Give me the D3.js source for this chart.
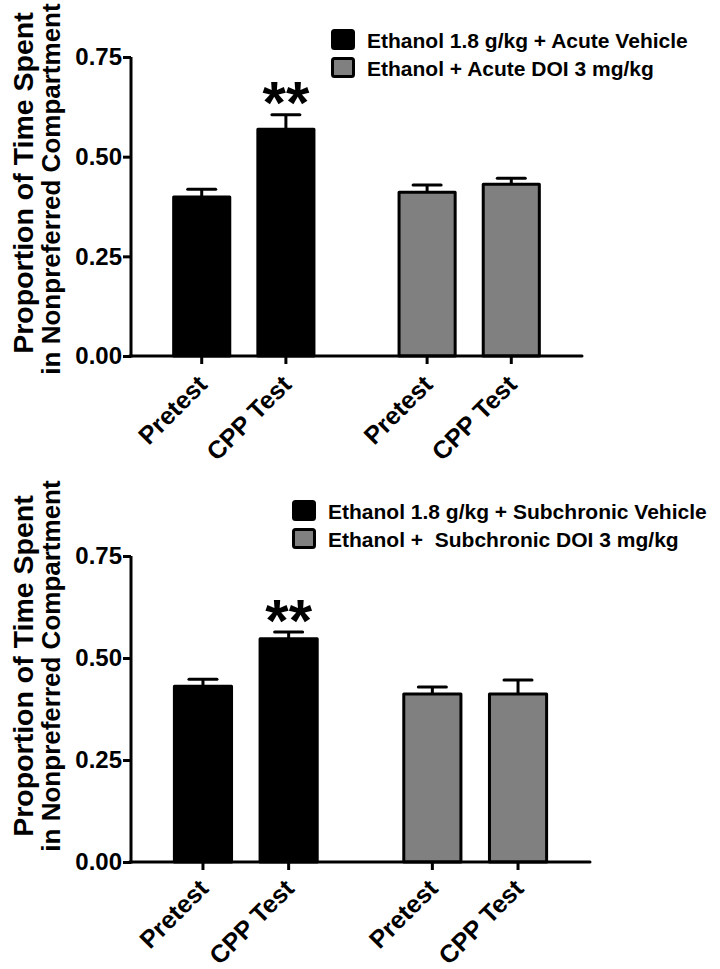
<!DOCTYPE html>
<html><head><meta charset="utf-8">
<script src="https://cdnjs.cloudflare.com/ajax/libs/d3/7.8.5/d3.min.js"></script>
<style>
html,body{margin:0;padding:0;background:#fff;}
svg{display:block;font-family:"Liberation Sans",Arial,sans-serif;font-weight:bold;}
</style></head>
<body>
<svg id="chart" width="720" height="969"></svg>
<script>
// ---- data ----
const conditions = ["Pretest", "CPP Test"];
const groups = ["Vehicle", "DOI"];
const yTicks = [0, 0.25, 0.5, 0.75];
const yTitle = ["Proportion of Time Spent", "in Nonpreferred Compartment"];

const acuteLegend = ["Ethanol 1.8 g/kg + Acute Vehicle", "Ethanol + Acute DOI 3 mg/kg"];
const acuteVehicleMean = [0.399, 0.569];
const acuteVehicleSem  = [0.019, 0.036];
const acuteDOIMean     = [0.411, 0.431];
const acuteDOISem      = [0.018, 0.015];

const subLegend = ["Ethanol 1.8 g/kg + Subchronic Vehicle", "Ethanol +  Subchronic DOI 3 mg/kg"];
const subVehicleMean = [0.431, 0.547];
const subVehicleSem  = [0.017, 0.017];
const subDOIMean     = [0.412, 0.412];
const subDOISem      = [0.017, 0.034];

const significance = ["", "**"]; // per condition, vehicle group
const groupColors = ["#000000", "#808080"];

const svg = d3.select("#chart");

function panel(cfg) {
  const g = svg.append("g");
  const y = d3.scaleLinear().domain([0, 0.75]).range([cfg.y0, cfg.y1]);
  const xg = d3.scaleBand().domain(groups).range([cfg.x0, cfg.x1])
    .paddingInner(0.253).paddingOuter(0.127);
  const xi = d3.scaleBand().domain(conditions).range([0, xg.bandwidth()])
    .paddingInner(0.298).paddingOuter(0.149);

  const rows = [];
  groups.forEach((gr, gi) => {
    conditions.forEach((c, ci) => {
      rows.push({group: gr, gi, cond: c, mean: cfg.means[gi][ci], sem: cfg.sems[gi][ci], sig: gi === 0 ? significance[ci] : ""});
    });
  });

  const bw = xi.bandwidth();
  // error bars (upper only)
  g.selectAll("line.err").data(rows).enter().append("line")
    .attr("x1", d => xg(d.group) + xi(d.cond) + bw / 2)
    .attr("x2", d => xg(d.group) + xi(d.cond) + bw / 2)
    .attr("y1", d => y(d.mean)).attr("y2", d => y(d.mean + d.sem))
    .attr("stroke", "#000").attr("stroke-width", 3);
  g.selectAll("line.cap").data(rows).enter().append("line")
    .attr("x1", d => xg(d.group) + xi(d.cond) + bw / 2 - 14)
    .attr("x2", d => xg(d.group) + xi(d.cond) + bw / 2 + 14)
    .attr("y1", d => y(d.mean + d.sem)).attr("y2", d => y(d.mean + d.sem))
    .attr("stroke", "#000").attr("stroke-width", 3).attr("stroke-linecap", "round");
  // bars
  g.selectAll("rect.bar").data(rows).enter().append("rect")
    .attr("x", d => xg(d.group) + xi(d.cond) + 1.5)
    .attr("width", bw - 3)
    .attr("y", d => y(d.mean))
    .attr("height", d => y(0) - y(d.mean))
    .attr("fill", d => groupColors[d.gi])
    .attr("stroke", "#000").attr("stroke-width", 3).attr("stroke-linejoin", "round");
  // significance
  g.selectAll("text.sig").data(rows.filter(d => d.sig)).enter().append("text")
    .attr("x", d => xg(d.group) + xi(d.cond) + bw / 2)
    .attr("y", d => y(d.mean + d.sem) + cfg.sigDy)
    .attr("text-anchor", "middle").attr("font-size", 60)
    .text(d => d.sig);

  // y axis
  const ya = g.append("g").attr("transform", `translate(${cfg.x0},0)`)
    .call(d3.axisLeft(y).tickValues(yTicks).tickFormat(d3.format(".2f")).tickSize(8).tickPadding(1));
  ya.select(".domain").attr("stroke-width", 3).attr("d", `M0,${cfg.y0 + 1.5}V${cfg.y1}`);
  ya.selectAll(".tick line").attr("stroke-width", 3);
  ya.selectAll(".tick text").attr("font-size", 24).attr("font-family", "Liberation Sans").attr("font-weight", "bold").attr("fill", "#000");

  // x axis
  const centers = rows.map(d => ({x: xg(d.group) + xi(d.cond) + bw / 2, label: d.cond}));
  g.append("line").attr("x1", cfg.x0 - 1.5).attr("x2", cfg.x1).attr("y1", cfg.y0).attr("y2", cfg.y0)
    .attr("stroke", "#000").attr("stroke-width", 3).attr("stroke-linecap", "round");
  g.selectAll("line.xt").data(centers).enter().append("line")
    .attr("x1", d => d.x).attr("x2", d => d.x).attr("y1", cfg.y0).attr("y2", cfg.y0 + 8)
    .attr("stroke", "#000").attr("stroke-width", 3);
  g.selectAll("text.xl").data(centers).enter().append("text")
    .attr("transform", d => `translate(${d.x + 7},${cfg.y0 + cfg.labDy}) rotate(-45)`)
    .attr("text-anchor", "end").attr("font-size", 25).text(d => d.label);

  // y title
  const titleSizes = [28.5, 26];
  yTitle.forEach((t, i) => {
    g.append("text")
      .attr("transform", `translate(${33 + i * 27},${cfg.titleCy[i]}) rotate(-90)`)
      .attr("text-anchor", "middle").attr("font-size", titleSizes[i])
      .text(t);
  });

  // legend
  cfg.legend.forEach((t, i) => {
    const ly = cfg.legY + i * cfg.legStep;
    g.append("rect").attr("x", cfg.legX + 1.5).attr("y", ly + 1.5).attr("width", 21).attr("height", 18)
      .attr("rx", 2).attr("fill", groupColors[i]).attr("stroke", "#000").attr("stroke-width", 3);
    g.append("text").attr("x", cfg.legX + 36).attr("y", ly + 19).attr("font-size", 21)
      .style("white-space", "pre").text(t);
  });
}

panel({x0: 131, x1: 582, y0: 356, y1: 57, means: [acuteVehicleMean, acuteDOIMean], sems: [acuteVehicleSem, acuteDOISem],
  legend: acuteLegend, legX: 331, legY: 29, legStep: 28, titleCy: [183, 189], labDy: 30, sigDy: 8});
panel({x0: 131, x1: 590, y0: 862, y1: 556, means: [subVehicleMean, subDOIMean], sems: [subVehicleSem, subDOISem],
  legend: subLegend, legX: 292, legY: 500, legStep: 28, titleCy: [666, 666], labDy: 28, sigDy: 9});
</script>
</body></html>
